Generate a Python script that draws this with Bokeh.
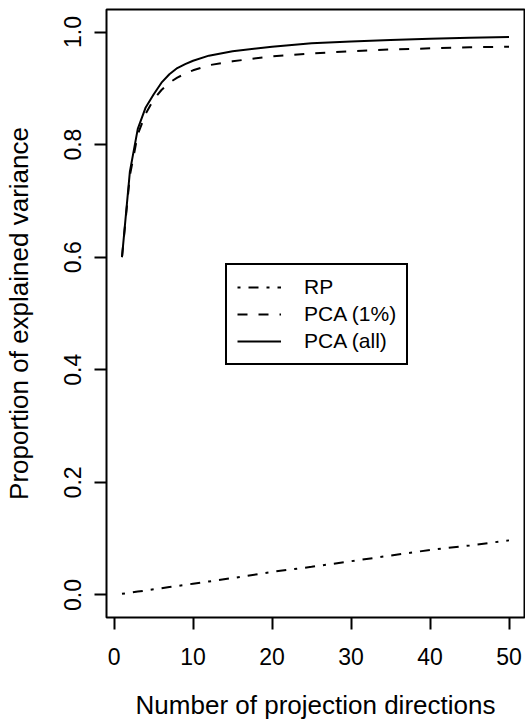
from bokeh.plotting import figure
from bokeh.models import Range1d, FixedTicker, PrintfTickFormatter, Legend, LegendItem
from bokeh.embed import file_html
from bokeh.resources import INLINE

# ---- data ----
directions = [1, 2, 3, 4, 5, 6, 7, 8, 9, 10, 12, 15, 20, 25, 30, 35, 40, 45, 50]
rp = [0.002, 0.004, 0.006, 0.008, 0.010, 0.012, 0.014, 0.016, 0.018, 0.020,
      0.024, 0.030, 0.041, 0.050, 0.060, 0.070, 0.080, 0.088, 0.097]
pca_1pct = [0.600, 0.745, 0.818, 0.855, 0.880, 0.897, 0.910, 0.919, 0.926, 0.932,
            0.941, 0.948, 0.957, 0.962, 0.966, 0.969, 0.971, 0.973, 0.974]
pca_all = [0.600, 0.752, 0.828, 0.866, 0.889, 0.910, 0.925, 0.936, 0.943, 0.949,
           0.958, 0.966, 0.974, 0.980, 0.983, 0.986, 0.988, 0.990, 0.991]
x_ticks = [0, 10, 20, 30, 40, 50]
y_ticks = [0.0, 0.2, 0.4, 0.6, 0.8, 1.0]
series_names = ["RP", "PCA (1%)", "PCA (all)"]

FONT = "Liberation Sans"

p = figure(width=525, height=722, output_backend="svg", toolbar_location=None,
           x_range=Range1d(-0.96, 51.96), y_range=Range1d(-0.04, 1.04),
           min_border_left=106, min_border_right=1, min_border_top=9,
           min_border_bottom=102)
p.xgrid.visible = False
p.ygrid.visible = False
p.background_fill_color = "white"
p.border_fill_color = "white"
p.outline_line_color = "black"
p.outline_line_width = 2
p.outline_line_alpha = 1.0

r_rp = p.line(directions, rp, line_color="black", line_width=2, line_dash="3 8 10 8")
r_p1 = p.line(directions, pca_1pct, line_color="black", line_width=2, line_dash="10 11")
r_pa = p.line(directions, pca_all, line_color="black", line_width=2)

for ax in (p.xaxis[0], p.yaxis[0]):
    ax.axis_line_color = None
    ax.major_tick_line_color = "black"
    ax.major_tick_line_width = 2
    ax.major_tick_out = 12
    ax.major_tick_in = 0
    ax.minor_tick_line_color = None
    ax.major_label_text_font = FONT
    ax.major_label_text_font_size = "23px"
    ax.major_label_text_color = "black"
    ax.axis_label_text_font = FONT
    ax.axis_label_text_font_size = "26px"
    ax.axis_label_text_font_style = "normal"
    ax.axis_label_text_color = "black"

p.xaxis[0].ticker = FixedTicker(ticks=x_ticks)
p.xaxis[0].major_label_standoff = 18
p.xaxis[0].axis_label = "Number of projection directions"
p.xaxis[0].axis_label_standoff = 22

p.yaxis[0].ticker = FixedTicker(ticks=y_ticks)
p.yaxis[0].formatter = PrintfTickFormatter(format="%.1f")
p.yaxis[0].major_label_orientation = "parallel"
p.yaxis[0].major_label_standoff = 13
p.yaxis[0].axis_label = "Proportion of explained variance"
p.yaxis[0].axis_label_standoff = 28

legend = Legend(items=[LegendItem(label=series_names[0], renderers=[r_rp]),
                       LegendItem(label=series_names[1], renderers=[r_p1]),
                       LegendItem(label=series_names[2], renderers=[r_pa])],
                location=(119, 252), margin=0, padding=10, spacing=3,
                glyph_width=44, glyph_height=22, label_height=22, label_standoff=23,
                label_text_font=FONT, label_text_font_size="21px",
                label_text_color="black",
                border_line_color="black", border_line_width=2, border_line_alpha=1.0,
                background_fill_color="white", background_fill_alpha=1.0)
p.add_layout(legend, "center")

open("out.html", "w").write(file_html(p, INLINE))
